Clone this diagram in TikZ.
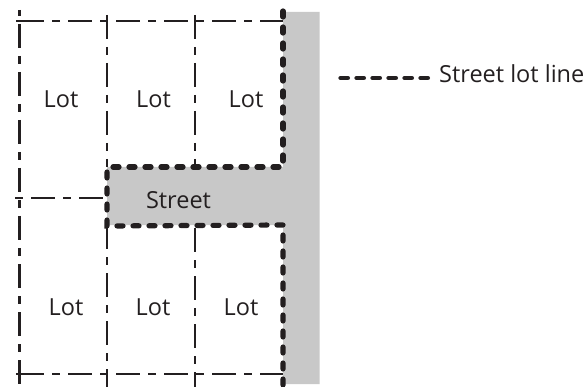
\documentclass[tikz,border=0pt]{standalone}
\usepackage{fontspec}
\setmainfont{Open Sans}
\definecolor{ink}{HTML}{231F20}
\definecolor{road}{HTML}{C8C8C8}
\tikzset{
  x=1pt,y=-1pt,
  lotline/.style={draw=ink,line width=2.3pt,dash pattern=on 24pt off 8pt on 8pt off 8pt},
  streetline/.style={draw=ink,line width=5.2pt,line cap=round,dash pattern=on 6pt off 10pt},
  label/.style={text=ink,font=\fontsize{23.5}{25}\selectfont,inner sep=0pt,anchor=base}
}
\begin{document}
\begin{tikzpicture}
\useasboundingbox (0,0) rectangle (588,387);
% grey street
\fill[road] (283,12) -- (319.5,12) -- (319.5,384) -- (283,384) -- (283,225) -- (107,225) -- (107,167) -- (283,167) -- cycle;
% key points
\coordinate (tl) at (20,21);
\coordinate (tr) at (283,21);
\coordinate (tlx) at (8,21);
\coordinate (bl) at (20,374);
\coordinate (blx) at (8,374);
\coordinate (br) at (283,374);
% lot lines
\draw[lotline] (tl) -- (tr);
\draw[lotline,dash phase=40pt] (tlx) -- (tl);
\draw[lotline] (bl) -- (br);
\draw[lotline,dash phase=40pt] (blx) -- (bl);
\coordinate (a1) at (19.5,10);
\coordinate (a2) at (19.5,192);
\coordinate (a3) at (19.5,200);
\coordinate (a4) at (19.5,387);
\draw[lotline,dash phase=34pt] (a1) -- (a2);
\draw[lotline,dash phase=32pt] (a3) -- (a4);
\coordinate (b1) at (107,10);
\coordinate (b2) at (107,167);
\coordinate (b3) at (107,225);
\coordinate (b4) at (107,387);
\draw[lotline,dash phase=-5pt] (b1) -- (b2);
\draw[lotline] (b3) -- (b4);
\coordinate (c1) at (195,10);
\coordinate (c2) at (195,167);
\coordinate (c3) at (195,226);
\coordinate (c4) at (195,387);
\draw[lotline,dash phase=-5pt] (c1) -- (c2);
\draw[lotline,dash phase=-2pt] (c3) -- (c4);
\coordinate (m1) at (15,198);
\coordinate (m2) at (105,198);
\draw[lotline,dash phase=32pt] (m1) -- (m2);
% street lot lines
\coordinate (s1) at (283,11);
\coordinate (s2) at (283,167);
\coordinate (s3) at (109,167);
\coordinate (s4) at (107,172);
\coordinate (s5) at (107,226);
\coordinate (s6) at (283,225);
\coordinate (s7) at (283,385);
\draw[streetline] (s1) -- (s2) -- (s3);
\draw[streetline] (s4) -- (s5) -- (s6) -- (s7);
% legend
\coordinate (k1) at (340.7,78);
\coordinate (k2) at (428,78);
\draw[streetline,line width=4.7pt,dash pattern=on 7pt off 9pt] (k1) -- (k2);
% labels
\node[label] (l1) at (61,108) {Lot};
\node[label] (l2) at (153.5,108) {Lot};
\node[label] (l3) at (246,108) {Lot};
\node[label] (l4) at (66,315) {Lot};
\node[label] (l5) at (153,315) {Lot};
\node[label] (l6) at (241,315) {Lot};
\node[label] (st) at (178.5,208) {Street};
\node[label,anchor=base west] (key) at (439,83) {Street lot line};
\end{tikzpicture}
\end{document}
